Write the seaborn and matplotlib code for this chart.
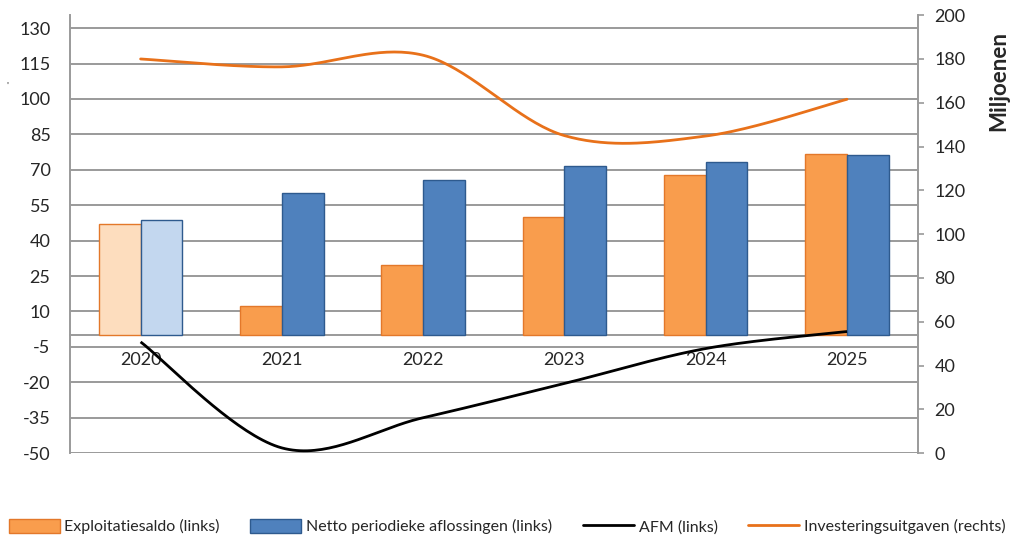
import numpy as np
import pandas as pd
import seaborn as sns
import matplotlib.pyplot as plt
from matplotlib.patches import Patch
from matplotlib.lines import Line2D

# data
jaren = ['2020', '2021', '2022', '2023', '2024', '2025']
exploitatiesaldo = [47.0, 12.3, 29.6, 50.0, 67.8, 76.7]
netto_aflossingen = [48.7, 60.1, 65.6, 71.6, 73.4, 76.2]
afm = [-2.9, -47.8, -35.0, -20.5, -5.7, 1.5]
investeringen = [180.0, 176.4, 181.7, 145.0, 144.8, 161.6]

left_ticks = list(range(-50, 131, 15))
right_ticks = list(range(0, 201, 20))

sns.set_style('white')
plt.rcParams['font.family'] = ['Lato', 'DejaVu Sans']

oranje = '#F99D4D'
blauw = '#4F81BD'
oranje_licht = '#FDDDBE'
blauw_licht = '#C3D7EF'
lijn_oranje = '#E8711A'
grijs = '#9A9A9A'


def smooth(y, n=40):
    # Excel-like smoothed line (Catmull-Rom bezier) through the points
    pts = np.column_stack([np.arange(len(y)), y]).astype(float)
    p = np.vstack([pts[0], pts, pts[-1]])
    out = []
    t = np.linspace(0, 1, n)[:, None]
    for i in range(1, len(p) - 2):
        p0, p1, p2, p3 = p[i - 1], p[i], p[i + 1], p[i + 2]
        c1 = p1 + (p2 - p0) / 6
        c2 = p2 - (p3 - p1) / 6
        seg = ((1 - t) ** 3) * p1 + 3 * ((1 - t) ** 2) * t * c1 + 3 * (1 - t) * t ** 2 * c2 + t ** 3 * p2
        out.append(seg if i == 1 else seg[1:])
    out = np.vstack(out)
    return out[:, 0], out[:, 1]


df = pd.DataFrame({
    'jaar': jaren * 2,
    'waarde': exploitatiesaldo + netto_aflossingen,
    'reeks': ['Exploitatiesaldo (links)'] * 6 + ['Netto periodieke aflossingen (links)'] * 6,
})

fig = plt.figure(figsize=(10.14, 5.42), dpi=100)
ax = fig.add_axes([0.069, 0.164, 0.836, 0.808])

sns.barplot(data=df, x='jaar', y='waarde', hue='reeks', palette=[oranje, blauw],
            width=0.59, ax=ax, legend=False, zorder=3)

for i, bar in enumerate(ax.containers[0]):
    bar.set_facecolor(oranje_licht if i == 0 else oranje)
    bar.set_edgecolor('#E3782A')
    bar.set_linewidth(1.0)
for i, bar in enumerate(ax.containers[1]):
    bar.set_facecolor(blauw_licht if i == 0 else blauw)
    bar.set_edgecolor('#2E5A8E')
    bar.set_linewidth(1.0)

xs, ys = smooth(afm)
ax.plot(xs, ys, color='black', lw=2.0, zorder=5, solid_capstyle='butt')

ax.set_xlim(-0.5, 5.5)
ax.set_ylim(-50, 135.5)
ax.set_yticks(left_ticks)
ax.set_yticklabels([str(v) for v in left_ticks], fontsize=13)
ax.yaxis.grid(True, color=grijs, lw=1.4)
ax.set_axisbelow(True)
ax.set_xlabel('')
ax.set_ylabel('')

ax.spines['bottom'].set_position(('data', 0))
ax.spines['bottom'].set_color(grijs)
ax.spines['bottom'].set_linewidth(1.4)
ax.spines['top'].set_visible(False)
ax.spines['right'].set_visible(False)
ax.spines['left'].set_color(grijs)
ax.spines['left'].set_linewidth(1.4)
ax.tick_params(axis='x', length=0, pad=12, labelsize=13)
ax.tick_params(axis='y', length=0, pad=14)

ax2 = ax.twinx()
xs2, ys2 = smooth(investeringen)
ax2.plot(xs2, ys2, color=lijn_oranje, lw=2.0, zorder=5)
ax2.set_ylim(0, 200)
ax2.set_yticks(right_ticks)
ax2.set_yticklabels([str(v) for v in right_ticks], fontsize=13)
ax2.tick_params(axis='y', length=4, width=1.2, color=grijs, pad=8, direction='out')
for s in ['top', 'left', 'bottom']:
    ax2.spines[s].set_visible(False)
ax2.spines['right'].set_color(grijs)
ax2.spines['right'].set_linewidth(1.4)
ax2.grid(False)

fig.text(0.985, 1 - 81 / 542, 'Miljoenen', rotation=90, ha='center', va='center',
         fontsize=16, fontweight='bold')
fig.text(0.007, 1 - 86 / 542, "'", fontsize=7, ha='center', va='center')

handles = [
    Patch(facecolor=oranje, edgecolor='#E3782A'),
    Patch(facecolor=blauw, edgecolor='#2E5A8E'),
    Line2D([], [], color='black', lw=2.0),
    Line2D([], [], color=lijn_oranje, lw=2.0),
]
labels = ['Exploitatiesaldo (links)', 'Netto periodieke aflossingen (links)',
          'AFM (links)', 'Investeringsuitgaven (rechts)']
fig.legend(handles, labels, loc='center', bbox_to_anchor=(0.5, 0.028), ncol=4,
           frameon=False, fontsize=11.5, handlelength=3.2, handleheight=0.9,
           handletextpad=0.3, columnspacing=1.9)

fig.savefig('out.png', dpi=100)
